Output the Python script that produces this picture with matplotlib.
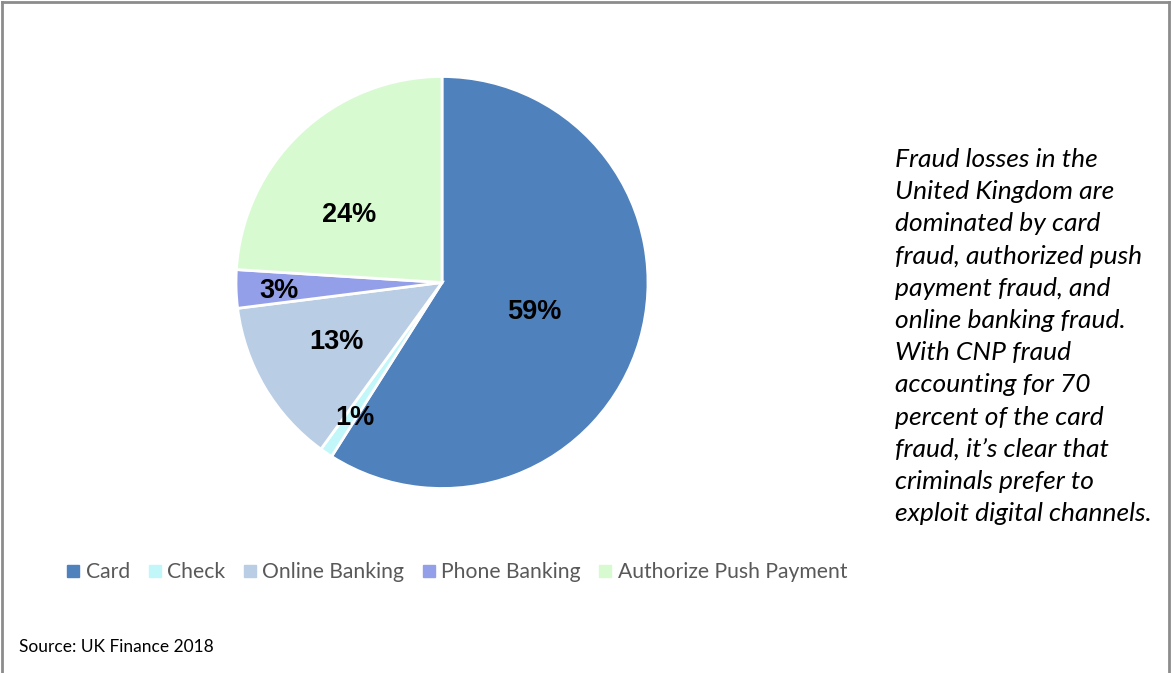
import numpy as np
import matplotlib.pyplot as plt
from matplotlib.lines import Line2D

# fraud loss shares (percent)
categories = ["Card", "Check", "Online Banking", "Phone Banking", "Authorize Push Payment"]
shares = [59, 1, 13, 3, 24]
colors = ["#4F81BD", "#C2F7FA", "#B9CDE5", "#949FEA", "#D7FAD1"]

# label placement inside each wedge (fraction of radius, angular nudge in degrees)
label_dist = [0.47, 0.78, 0.59, 0.79, 0.56]
label_nudge = [-1.6, 1.5, -1.1, 1.2, 10.8]

note = ("Fraud losses in the\nUnited Kingdom are\ndominated by card\n"
        "fraud, authorized push\npayment fraud, and\nonline banking fraud.\n"
        "With CNP fraud\naccounting for 70\npercent of the card\n"
        "fraud, it\u2019s clear that\ncriminals prefer to\nexploit digital channels.")
source = "Source: UK Finance 2018"

W, H = 1171, 673
fig = plt.figure(figsize=(W / 100, H / 100), dpi=100)

cx, cy, r = 442, 282.5, 206
ax = fig.add_axes([(cx - r) / W, (H - cy - r) / H, 2 * r / W, 2 * r / H])
wedges, _ = ax.pie(shares, colors=colors, startangle=90, counterclock=False,
                   radius=1, wedgeprops=dict(edgecolor="white", linewidth=2))
ax.set_xlim(-1, 1)
ax.set_ylim(-1, 1)
ax.set_aspect("equal")
ax.axis("off")

for w, val, d, nudge in zip(wedges, shares, label_dist, label_nudge):
    ang = np.deg2rad((w.theta1 + w.theta2) / 2 + nudge)
    ax.text(d * np.cos(ang), d * np.sin(ang), f"{val}%", ha="center", va="center",
            fontsize=19.5, fontweight="bold", family="Liberation Sans", color="black")

# legend row
handles = [Line2D([], [], marker="s", linestyle="none", markersize=8,
                  markerfacecolor=c, markeredgecolor=c) for c in colors]
fig.legend(handles, categories, loc="center left", bbox_to_anchor=(67 / W, 1 - 572 / H),
           ncol=5, frameon=False, borderpad=0, borderaxespad=0,
           handlelength=0.6, handletextpad=0.29, columnspacing=0.86,
           prop=dict(family="Lato", size=15.25), labelcolor="#595959")

# one line per row so the spacing is exact
lines = note.split("\n")
for i, line in enumerate(lines):
    fig.text(895 / W, 1 - (167 + 32.2 * i) / H, line, ha="left", va="baseline",
             fontsize=19, family="Lato", style="italic", color="black")

fig.text(19 / W, 1 - 646.5 / H, source, ha="left", va="center", fontsize=12.5,
         family="Lato", color="black")

# outer frame (bottom edge falls outside the canvas)
frame = dict(color="#8C8C8C", linewidth=2, transform=fig.transFigure)
fig.add_artist(Line2D([2 / W, 1169 / W], [1 - 2 / H, 1 - 2 / H], **frame))
fig.add_artist(Line2D([2 / W, 2 / W], [0, 1 - 2 / H], **frame))
fig.add_artist(Line2D([1169 / W, 1169 / W], [0, 1 - 2 / H], **frame))

fig.savefig("out.png", dpi=100)
